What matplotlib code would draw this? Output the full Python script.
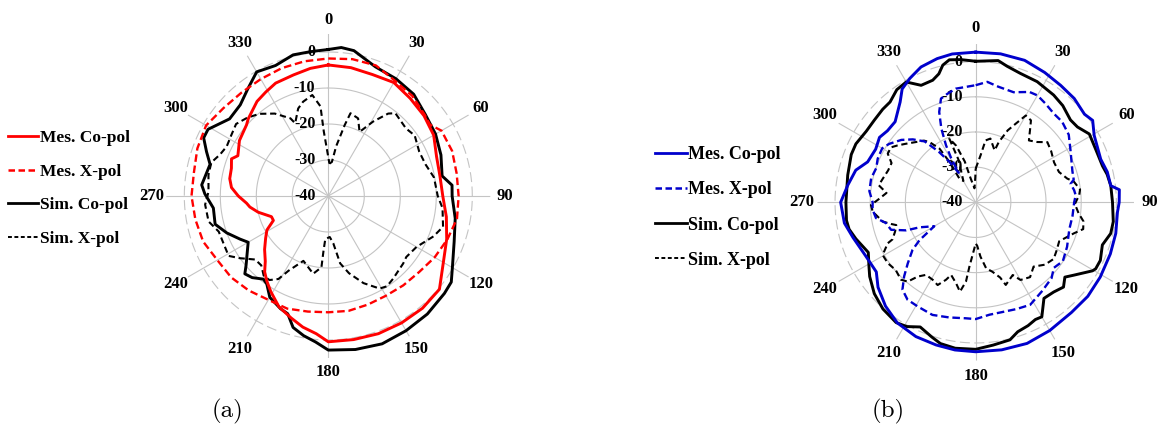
import numpy as np
import matplotlib
matplotlib.use("Agg")
import matplotlib.pyplot as plt
import matplotlib.transforms as mtransforms
from matplotlib.lines import Line2D


# =========================
# Data (angle in deg, level in dB)
# =========================

# --- (a) ---
a_mes_co_deg = [0, 10, 20, 30, 40, 50, 60, 70, 80, 90, 100, 110, 120, 130, 140, 150, 160, 170, 180,
                185, 191, 197, 204, 211, 216, 220, 224, 230, 236, 241, 246, 250, 257, 262, 265, 270,
                275, 280, 286, 291, 294, 302, 311, 314, 323, 329, 335, 344, 352]
a_mes_co_db = [-3.6, -3.8, -4.1, -3.6, -4.6, -5.3, -6.2, -8.0, -8.5, -8.2, -6.7, -5.0, -3.1, 0.3, 0.7, 0.7, 0.7, 0.5, 0.5,
               -1.6, -2.9, -4.6, -6.3, -9.0, -10.9, -12.5, -14.8, -16.9, -19.0, -20.5, -23.3, -23.2, -20.0, -18.0, -17.2, -15.0,
               -13.0, -12.2, -12.0, -11.2, -12.5, -10.9, -9.9, -9.1, -7.1, -6.3, -5.4, -5.0, -4.2]

a_mes_x_deg = [0, 10, 20, 30, 40, 50, 55, 60, 70, 80, 90, 100, 110, 120, 130, 140, 150, 160, 170, 180,
               190, 200, 210, 220, 230, 240, 250, 260, 270, 280, 290, 300, 310, 320, 330, 340, 350]
a_mes_x_db = [-1.8, -1.4, -1.4, -3.0, -3.7, -5.0, -5.5, -3.7, -3.4, -3.8, -3.8, -3.7, -4.8, -5.9, -7.1, -7.6, -8.0, -7.9, -7.6, -7.7,
              -7.4, -6.7, -6.7, -5.7, -4.8, -4.4, -3.0, -2.5, -2.0, -2.1, -1.3, -0.8, -2.0, -2.5, -2.5, -2.2, -2.0]

a_sim_co_deg = [0, 5, 10, 20, 30, 40, 50, 60, 70, 80, 85, 90, 100, 110, 120, 125, 130, 140, 150, 160, 170, 180,
                185, 190, 195, 199, 203, 210, 215, 218, 223, 227, 230, 235, 240, 244, 250, 256, 264, 271,
                275, 285, 290, 295, 299, 308, 316, 323, 330, 338, 346, 353]
a_sim_co_db = [0.7, 1.4, 1.0, -1.8, -2.4, -3.1, -4.8, -5.6, -6.7, -7.9, -5.5, -5.6, -4.2, -2.8, -0.2, 1.7, 2.1, 2.8, 3.2, 3.7, 3.3, 2.8,
               0.7, -0.6, -2.2, -5.4, -6.0, -7.5, -10.2, -10.7, -9.0, -8.3, -10.2, -12.5, -14.3, -12.7, -10.0, -7.6, -7.9, -5.7,
               -4.7, -6.0, -4.0, -1.8, -1.8, -5.2, -4.8, -2.8, -0.2, -0.9, 0.4, 0.4]

a_sim_x_deg = [2, 6, 9, 13, 15, 21, 26, 31, 36, 39, 49, 55, 64, 72, 80, 90, 96, 105, 111, 120, 128, 132, 142, 147,
               151, 158, 165, 170, 174, 178, 184, 185, 185.5, 191, 201, 208, 211, 215, 219, 224, 229, 235, 239,
               244, 252, 258, 266, 272, 280, 286, 291, 296, 302, 308, 314, 320, 327, 334, 335.5, 341, 345, 351,
               355, 356]
a_sim_x_db = [-31.0, -30.5, -26.0, -19.8, -16.2, -16.9, -20.2, -15.9, -11.7, -10.4, -11.4, -10.7, -11.9, -11.6, -10.2, -9.6, -8.1, -7.0, -8.7, -11.7, -12.5, -12.0, -10.8, -10.1,
              -10.6, -13.9, -17.8, -21.0, -26.8, -28.6, -28.0, -24.7, -20.1, -18.0, -20.7, -16.5, -13.1, -11.5, -11.5, -13.2, -13.1, -9.9, -7.7,
              -8.0, -8.0, -6.0, -5.7, -6.7, -6.2, -6.2, -7.8, -8.6, -8.2, -7.5, -8.7, -10.2, -12.7, -16.0, -17.8, -14.3, -12.9, -11.6,
              -15.0, -22.0]

# --- (b) ---
b_mes_co_deg = [0, 9.5, 19, 28, 36, 43.5, 51, 55, 60.5, 71, 77, 83, 85, 90, 94, 102.5, 111, 121, 130, 139, 150, 160,
                170, 180, 188, 195.5, 204, 213, 221, 229, 235, 244, 254, 261, 270, 277.6, 285, 290.5, 298, 304,
                309, 315, 323, 327, 332, 338, 345, 351]
b_mes_co_db = [2.7, 2.8, 2.7, 1.8, 1.1, 0.7, -0.2, 0.6, -1.3, -2.4, -1.6, -1.3, 1.0, 0.8, 0.4, 0.8, 1.0, 1.3, 1.6, 1.5, 2.1, 2.7,
               2.6, 2.5, 2.4, 2.1, 1.8, 0.9, -0.9, -3.2, -5.5, -5.2, -3.7, -2.2, -1.6, -3.3, -4.7, -7.2, -7.8, -7.0,
               -7.7, -7.6, -4.3, -1.6, -0.1, 1.5, 2.3, 2.7]

b_mes_x_deg = [0, 5.5, 11, 19, 26, 30, 35, 41.5, 47, 54, 61, 72, 77, 79, 83, 86, 90, 98, 106, 116, 124, 130, 135,
               143, 152, 159, 167, 173, 180, 185, 193, 201, 209, 215, 220, 224, 228, 233, 236, 240, 246, 248, 252,
               257, 261, 266, 270, 276, 283, 289, 294, 300, 304, 310, 315, 320, 322, 324, 327, 330, 331, 332.5,
               335, 338, 341.5, 345.5, 350]
b_mes_x_db = [-6.7, -5.6, -6.5, -6.9, -5.1, -4.9, -5.6, -6.4, -6.4, -7.3, -9.2, -11.1, -11.4, -12.5, -11.8, -11.5, -12.0, -12.2, -12.3, -11.1, -10.1, -11.0, -9.5,
              -8.5, -7.0, -7.5, -7.9, -7.8, -6.8, -6.9, -6.4, -5.7, -6.1, -6.2, -7.6, -10.7, -14.0, -17.5, -20.7, -26.4, -22.5, -18.7, -14.7,
              -13.8, -11.3, -10.6, -10.7, -9.6, -9.5, -10.1, -9.5, -9.3, -10.3, -12.4, -14.7, -17.4, -20.1, -22.4, -26.3, -30.3, -25.5, -21.7,
              -16.9, -12.3, -8.9, -8.1, -7.2]

b_sim_co_deg = [0, 9, 13, 19, 27, 36, 42, 49, 53.5, 59, 66, 74, 78, 83, 90, 98, 103, 108.6, 115, 119, 120.4, 126.5,
                130, 134, 139, 144.6, 150, 153, 157, 162, 166, 173, 180, 188, 194, 198, 204, 209, 213.5, 221, 228,
                235, 239, 245, 253, 258, 262, 270, 282, 291, 296, 303, 309, 315, 319.5, 325, 330, 335, 340.6, 344,
                346.5, 349.5, 354]
b_sim_co_db = [0.1, 0.8, -0.3, -1.2, -1.5, -2.3, -3.0, -4.3, -4.0, -2.3, -2.7, -2.5, -1.8, -1.3, -1.1, -0.5, -0.6, -2.0, -0.9, -1.0, -1.5, -5.2,
               -6.9, -5.3, -6.2, -6.5, -2.4, -2.6, -1.9, -1.3, 0.3, 0.9, 1.8, 1.9, 1.4, 0.3, -1.2, 0.4, 1.0, 0.2, -1.2,
               -3.2, -4.6, -6.3, -4.4, -3.2, -2.9, -3.1, -2.8, -2.1, -2.1, -2.9, -2.9, -2.6, -2.5, -0.9, -0.5, -3.3, -3.2, -2.0,
               0.1, 1.2, 0.8]

b_sim_x_deg = [0, 6, 9, 13, 20, 21, 24, 27, 30, 34, 36.4, 40.7, 45.6, 50, 56, 63, 70, 75.5, 78, 83, 86, 91, 96, 100,
               104, 107.5, 111, 115, 121, 126, 132, 138, 144, 150, 153, 160, 162, 166.5, 171, 175, 178, 180, 183,
               185.6, 187, 190, 193.6, 198.7, 201, 204.7, 209, 214.4, 218, 220.6, 224, 229.7, 235.3, 240.5, 245,
               246, 250, 254, 255.6, 258.3, 264.8, 268.5, 272, 276, 280, 284, 290, 295, 299, 303, 306, 310, 315,
               320, 322.5, 326, 327, 325.5, 330, 338, 337.5, 341, 345, 348, 355, 359]
b_sim_x_db = [-30.4, -26.5, -22.2, -21.4, -24.3, -21.6, -17.6, -14.9, -11.5, -11.9, -13.9, -16.8, -15.5, -13.4, -14.1, -15.0, -14.8, -13.1, -11.5, -10.1, -10.5, -11.8, -10.6, -8.9,
              -8.5, -10.7, -12.3, -13.8, -13.2, -12.6, -13.5, -15.4, -13.7, -14.5, -16.8, -15.0, -17.5, -19.7, -21.0, -24.5, -27.6, -28.3, -25.5,
              -21.6, -17.3, -14.2, -16.3, -18.2, -16.4, -14.1, -14.8, -15.0, -13.2, -10.3, -9.4, -10.2, -9.6, -9.6, -12.4,
              -14.1, -15.6, -16.5, -15.2, -13.0, -10.6, -10.2, -12.5, -14.5, -12.0, -12.7, -13.5, -13.6, -11.4, -11.3, -12.5, -14.1, -15.8,
              -17.1, -18.4, -21.6, -26.3, -31.8, -33.0, -27.0, -20.4, -23.0, -28.0, -33.0, -36.0, -33.0]

legend_labels = ["Mes. Co-pol", "Mes. X-pol", "Sim. Co-pol", "Sim. X-pol"]
theta_ticks = list(range(0, 360, 30))
r_ticks = [-40, -30, -20, -10, 0]
captions = ["(a)", "(b)"]

R_MIN, R_MAX = -40, 5
GRID = "#c4c4c4"
SERIF = "Liberation Serif"
TICK_FS = 12


def closed(deg, db):
    t = np.deg2rad(list(deg) + [deg[0]])
    return t, np.array(list(db) + [db[0]])


def setup_polar(fig, ax, label_r):
    ax.set_theta_zero_location("N")
    ax.set_theta_direction(-1)
    ax.set_ylim(R_MIN, R_MAX)
    ax.grid(False)
    ax.set_xticks([])
    ax.set_yticks([])
    ax.spines["polar"].set_visible(False)
    ax.patch.set_alpha(0)

    ring = np.linspace(0, 2 * np.pi, 361)
    for r in r_ticks[1:-1]:
        ax.plot(ring, np.full_like(ring, r), color=GRID, lw=0.8, zorder=0)
    ax.plot(ring, np.full_like(ring, r_ticks[-1]), color=GRID, lw=0.8,
            ls=(0, (9, 4)), zorder=0)
    for t in theta_ticks:
        ax.plot([np.deg2rad(t)] * 2, [R_MIN, R_MAX], color=GRID, lw=0.8, zorder=0)
        ax.text(np.deg2rad(t), label_r, str(t), ha="center", va="center",
                fontsize=TICK_FS, fontweight="bold", family=SERIF)

    shift = mtransforms.offset_copy(ax.transData, fig=fig, x=-13, y=0, units="dots")
    for r in r_ticks:
        ax.text(0, r, str(r), transform=shift, ha="right", va="center",
                fontsize=TICK_FS - 0.5, fontweight="bold", family=SERIF, zorder=1)


def draw_panel(fig, rect, label_r, mes_color, curves):
    ax = fig.add_axes(rect, projection="polar")
    setup_polar(fig, ax, label_r)
    (mco_d, mco_v), (mx_d, mx_v), (sco_d, sco_v), (sx_d, sx_v) = curves
    ax.plot(*closed(sx_d, sx_v), color="black", lw=1.5, ls=(0, (3.0, 1.8)), zorder=3)
    ax.plot(*closed(sco_d, sco_v), color="black", lw=2.1, zorder=4)
    ax.plot(*closed(mx_d, mx_v), color=mes_color, lw=1.7, ls=(0, (3.2, 1.6)), zorder=5)
    ax.plot(*closed(mco_d, mco_v), color=mes_color, lw=2.1, zorder=6)
    return ax


def add_legend(fig, mes_color, anchor, fontsize):
    handles = [
        Line2D([], [], color=mes_color, lw=2.0),
        Line2D([], [], color=mes_color, lw=1.8, ls=(0, (2.6, 1.4))),
        Line2D([], [], color="black", lw=2.0),
        Line2D([], [], color="black", lw=1.4, ls=(0, (2.0, 1.3))),
    ]
    fig.legend(handles, legend_labels, loc="center left", bbox_to_anchor=anchor,
               frameon=False, handlelength=1.75, handletextpad=0.1, labelspacing=1.0,
               borderpad=0, borderaxespad=0,
               prop={"family": SERIF, "weight": "bold", "size": fontsize})


fig = plt.figure(figsize=(11.59, 4.32), dpi=100)

W, H = 1159, 432
# panel (a): centre (328, 196) px, 3.6 px per dB
ra = 45 * 3.6
draw_panel(fig, [(328.3 - ra) / W, (H - 196 - ra) / H, 2 * ra / W, 2 * ra / H], 9.0, "#ff0000",
           [(a_mes_co_deg, a_mes_co_db), (a_mes_x_deg, a_mes_x_db),
            (a_sim_co_deg, a_sim_co_db), (a_sim_x_deg, a_sim_x_db)])
# panel (b): centre (976, 202) px, 3.52 px per dB
rb = 45 * 3.517
draw_panel(fig, [(975.7 - rb) / W, (H - 202.3 - rb) / H, 2 * rb / W, 2 * rb / H], 9.5, "#0000cc",
           [(b_mes_co_deg, b_mes_co_db), (b_mes_x_deg, b_mes_x_db),
            (b_sim_co_deg, b_sim_co_db), (b_sim_x_deg, b_sim_x_db)])

add_legend(fig, "#ff0000", (8 / W, (H - 188.5) / H), 12.5)
add_legend(fig, "#0000cc", (655 / W, (H - 207.5) / H), 13)

fig.text(228 / W, (H - 411) / H, captions[0], ha="center", va="center", fontsize=18, family="cmr10")
fig.text(888 / W, (H - 411) / H, captions[1], ha="center", va="center", fontsize=18, family="cmr10")

fig.savefig("out.png", dpi=100)
